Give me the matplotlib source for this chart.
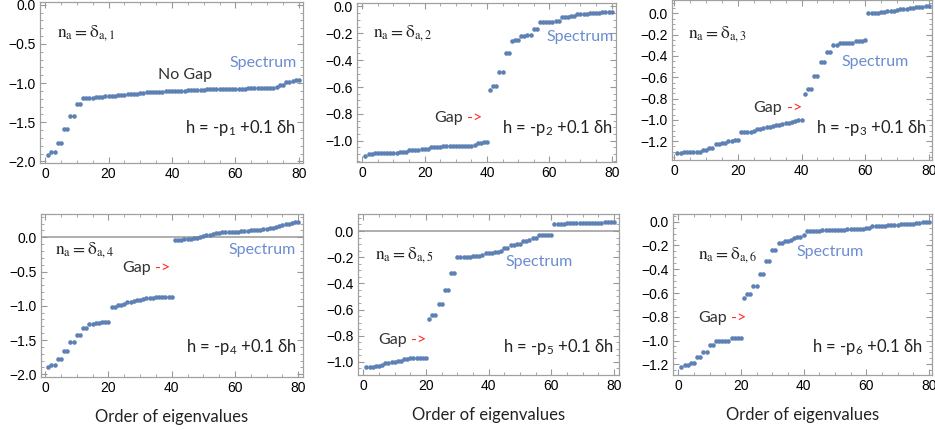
import matplotlib
matplotlib.use('Agg')
import matplotlib.pyplot as plt
from matplotlib.ticker import MultipleLocator, FuncFormatter

plt.rcParams['font.family'] = ['Liberation Sans', 'DejaVu Sans']
plt.rcParams['mathtext.fontset'] = 'custom'
plt.rcParams['mathtext.rm'] = 'Lato'
plt.rcParams['mathtext.it'] = 'Lato:italic'

# order of eigenvalues (x axis)
order = list(range(1, 81))

# eigenvalues
ev1 = [-1.92, -1.88, -1.88, -1.76, -1.76, -1.59, -1.59, -1.42, -1.42, -1.27,
       -1.27, -1.19, -1.19, -1.19, -1.19, -1.18, -1.18, -1.18, -1.17, -1.17,
       -1.16, -1.16, -1.15, -1.15, -1.15, -1.14, -1.14, -1.14, -1.14, -1.13,
       -1.13, -1.12, -1.12, -1.11, -1.11, -1.11, -1.11, -1.10, -1.10, -1.10,
       -1.10, -1.10, -1.10, -1.10, -1.09, -1.09, -1.09, -1.09, -1.09, -1.09,
       -1.08, -1.08, -1.08, -1.08, -1.08, -1.07, -1.07, -1.07, -1.07, -1.07,
       -1.07, -1.07, -1.07, -1.06, -1.06, -1.06, -1.06, -1.06, -1.06, -1.06,
       -1.06, -1.06, -1.05, -1.03, -1.03, -0.99, -0.99, -0.97, -0.96, -0.96]

ev2 = [-1.11, -1.10, -1.10, -1.09, -1.09, -1.09, -1.09, -1.09, -1.09, -1.09,
       -1.09, -1.08, -1.08, -1.08, -1.07, -1.07, -1.07, -1.07, -1.06, -1.06,
       -1.06, -1.05, -1.05, -1.05, -1.05, -1.04, -1.04, -1.04, -1.04, -1.04,
       -1.04, -1.04, -1.04, -1.04, -1.04, -1.03, -1.02, -1.02, -1.01, -1.01,
       -0.62, -0.59, -0.59, -0.49, -0.49, -0.35, -0.35, -0.26, -0.25, -0.25,
       -0.22, -0.22, -0.21, -0.21, -0.17, -0.17, -0.12, -0.12, -0.12, -0.12,
       -0.12, -0.11, -0.11, -0.08, -0.08, -0.08, -0.07, -0.07, -0.06, -0.06,
       -0.06, -0.06, -0.05, -0.05, -0.05, -0.05, -0.04, -0.04, -0.04, -0.04]

ev3 = [-1.31, -1.31, -1.30, -1.30, -1.30, -1.30, -1.30, -1.30, -1.28, -1.28,
       -1.26, -1.26, -1.23, -1.23, -1.22, -1.22, -1.20, -1.20, -1.19, -1.19,
       -1.11, -1.11, -1.11, -1.11, -1.10, -1.09, -1.09, -1.08, -1.07, -1.07,
       -1.06, -1.05, -1.05, -1.04, -1.03, -1.03, -1.02, -1.01, -1.00, -1.00,
       -0.76, -0.71, -0.71, -0.59, -0.59, -0.46, -0.46, -0.36, -0.36, -0.30,
       -0.30, -0.28, -0.28, -0.28, -0.28, -0.28, -0.26, -0.26, -0.26, -0.25,
       0.00, 0.00, 0.00, 0.00, 0.01, 0.01, 0.02, 0.02, 0.02, 0.03,
       0.04, 0.04, 0.04, 0.05, 0.05, 0.06, 0.06, 0.06, 0.07, 0.07]

ev4 = [-1.90, -1.86, -1.86, -1.78, -1.78, -1.66, -1.66, -1.53, -1.53, -1.42,
       -1.42, -1.32, -1.32, -1.27, -1.27, -1.25, -1.25, -1.23, -1.23, -1.23,
       -1.02, -1.02, -0.99, -0.99, -0.98, -0.95, -0.95, -0.93, -0.91, -0.91,
       -0.90, -0.89, -0.89, -0.88, -0.87, -0.87, -0.87, -0.87, -0.87, -0.87,
       -0.04, -0.04, -0.04, -0.03, -0.03, -0.02, -0.01, -0.01, 0.01, 0.02,
       0.03, 0.04, 0.05, 0.06, 0.06, 0.07, 0.07, 0.08, 0.08, 0.08,
       0.08, 0.09, 0.09, 0.09, 0.10, 0.10, 0.11, 0.11, 0.12, 0.12,
       0.13, 0.14, 0.15, 0.16, 0.18, 0.19, 0.19, 0.21, 0.22, 0.22]

ev5 = [-1.04, -1.04, -1.04, -1.03, -1.03, -1.02, -1.01, -1.01, -1.00, -1.00,
       -0.99, -0.99, -0.98, -0.98, -0.97, -0.97, -0.97, -0.97, -0.97, -0.97,
       -0.67, -0.64, -0.64, -0.56, -0.56, -0.45, -0.45, -0.32, -0.32, -0.20,
       -0.20, -0.20, -0.20, -0.20, -0.19, -0.19, -0.19, -0.18, -0.17, -0.17,
       -0.17, -0.16, -0.16, -0.15, -0.13, -0.13, -0.11, -0.11, -0.10, -0.10,
       -0.08, -0.08, -0.07, -0.05, -0.05, -0.03, -0.03, -0.03, -0.03, -0.03,
       0.055, 0.055, 0.056, 0.057, 0.058, 0.058, 0.059, 0.060, 0.060, 0.061,
       0.062, 0.062, 0.063, 0.064, 0.064, 0.065, 0.066, 0.066, 0.067, 0.067]

ev6 = [-1.22, -1.21, -1.21, -1.19, -1.19, -1.14, -1.14, -1.10, -1.10, -1.04,
       -1.04, -1.00, -1.00, -1.00, -1.00, -1.00, -0.98, -0.98, -0.98, -0.98,
       -0.64, -0.61, -0.61, -0.54, -0.54, -0.44, -0.44, -0.33, -0.33, -0.24,
       -0.24, -0.18, -0.18, -0.16, -0.16, -0.15, -0.14, -0.13, -0.13, -0.11,
       -0.08, -0.08, -0.08, -0.08, -0.08, -0.07, -0.07, -0.07, -0.07, -0.07,
       -0.07, -0.07, -0.07, -0.06, -0.06, -0.06, -0.06, -0.06, -0.06, -0.05,
       -0.05, -0.04, -0.04, -0.04, -0.04, -0.04, -0.03, -0.03, -0.03, -0.03,
       -0.02, -0.02, -0.02, -0.02, -0.02, -0.01, -0.01, 0.00, 0.00, 0.00]

series = [ev1, ev2, ev3, ev4, ev5, ev6]
index_labels = ['1', '2', '3', '4', '5', '6']
gap_labels = ['No Gap', 'Gap', 'Gap', 'Gap', 'Gap', 'Gap']
xlabel = 'Order of eigenvalues'

dot_color = '#5E81B5'
spec_color = '#6A8CD2'
text_color = '#333333'
sans = ['Lato', 'DejaVu Sans']

# layout of every panel (pixels of the 935x430 picture) and its limits
# [left, top, right, bottom], xlim, ylim, major y step, minor y step
boxes = [
    ([40, 2, 303, 163], (-1.6, 81.3), (-2.02, 0.035), 0.5, 0.1),
    ([357, 3, 616, 162], (-1.7, 81.4), (-1.158, 0.025), 0.2, 0.05),
    ([672, 0, 932, 160], (-0.7, 81.0), (-1.377, 0.126), 0.2, 0.05),
    ([41, 214, 303, 377], (-1.3, 81.5), (-2.04, 0.34), 0.5, 0.1),
    ([358, 214, 619, 375], (-1.7, 81.6), (-1.10, 0.13), 0.2, 0.05),
    ([673, 214, 932, 375], (-1.7, 81.0), (-1.29, 0.065), 0.2, 0.05),
]
# text positions in axes fraction: n_a label, gap label, spectrum, h label
n_pos = [(0.065, 0.81), (0.062, 0.81), (0.061, 0.79), (0.053, 0.78), (0.065, 0.745), (0.096, 0.745)]
gap_pos = [(0.55, 0.547), (0.297, 0.277), (0.314, 0.327), (0.309, 0.67), (0.077, 0.217), (0.096, 0.354)]
spec_pos = [(0.977, 0.62), (0.99, 0.786), (0.912, 0.61), (0.973, 0.78), (0.824, 0.70), (0.735, 0.764)]
h_pos = [(0.975, 0.217), (0.99, 0.214), (0.98, 0.20), (0.977, 0.184), (0.98, 0.174), (0.965, 0.174)]


def tick_fmt(v, pos):
    # one decimal, long minus sign
    return ('%.1f' % v).replace('-', '\u2212')


W, H = 935, 430
fig = plt.figure(figsize=(W / 100, H / 100), dpi=100)

for i in range(6):
    (l, t, r, b), xl, yl, ystep, yminor = boxes[i]
    ax = fig.add_axes([l / W, 1 - b / H, (r - l) / W, (b - t) / H])

    # zero axis line shown where 0 lies inside the frame (panels 4, 5)
    if i in (3, 4):
        ax.axhline(0, color='#999999', lw=1.1, zorder=1)

    ax.plot(order, series[i], 'o', ms=3.3, color=dot_color, mec='none', zorder=3)
    ax.set_xlim(*xl)
    ax.set_ylim(*yl)

    ax.xaxis.set_major_locator(MultipleLocator(20))
    ax.xaxis.set_minor_locator(MultipleLocator(5))
    ax.yaxis.set_major_locator(MultipleLocator(ystep))
    ax.yaxis.set_minor_locator(MultipleLocator(yminor))
    ax.yaxis.set_major_formatter(FuncFormatter(tick_fmt))
    ax.tick_params(which='both', direction='in', top=True, right=True,
                   color='#999999', labelsize=10, labelcolor='#000000', pad=3)
    ax.tick_params(which='major', length=4, width=0.8)
    ax.tick_params(which='minor', length=2, width=0.6)
    for s in ax.spines.values():
        s.set_color('#a0a0a0')
        s.set_linewidth(0.9)

    # annotations
    ax.text(n_pos[i][0], n_pos[i][1],
            '$\\mathrm{n}_\\mathrm{a} = \\mathrm{δ}_{\\mathrm{a,' + index_labels[i] + '}}$',
            transform=ax.transAxes, fontsize=12.5, color='#222222',
            math_fontfamily='stix', va='center', ha='left')
    if i == 0:
        ax.text(gap_pos[i][0], gap_pos[i][1], gap_labels[i], transform=ax.transAxes,
                fontsize=11.5, color=text_color, family=sans, ha='center', va='center')
    else:
        ax.text(gap_pos[i][0], gap_pos[i][1], gap_labels[i], transform=ax.transAxes,
                fontsize=11.5, color=text_color, family=sans, ha='left', va='center')
        ax.annotate('->', xy=gap_pos[i], xycoords='axes fraction',
                    xytext=(24, 0), textcoords='offset points',
                    fontsize=11.5, color='#ff2a2a', family=sans, ha='left', va='center')
    ax.text(spec_pos[i][0], spec_pos[i][1], 'Spectrum', transform=ax.transAxes,
            fontsize=11.5, color=spec_color, family=sans, ha='right', va='center')
    ax.text(h_pos[i][0], h_pos[i][1],
            'h = -p$_{' + index_labels[i] + '}$ +0.1 δh', transform=ax.transAxes,
            fontsize=12, color='#222222', family=sans, ha='right', va='center')

    if i >= 3:
        ax.set_xlabel(xlabel, fontsize=12, family=sans, color='#222222', labelpad=10)

fig.savefig('out.png', dpi=100)
